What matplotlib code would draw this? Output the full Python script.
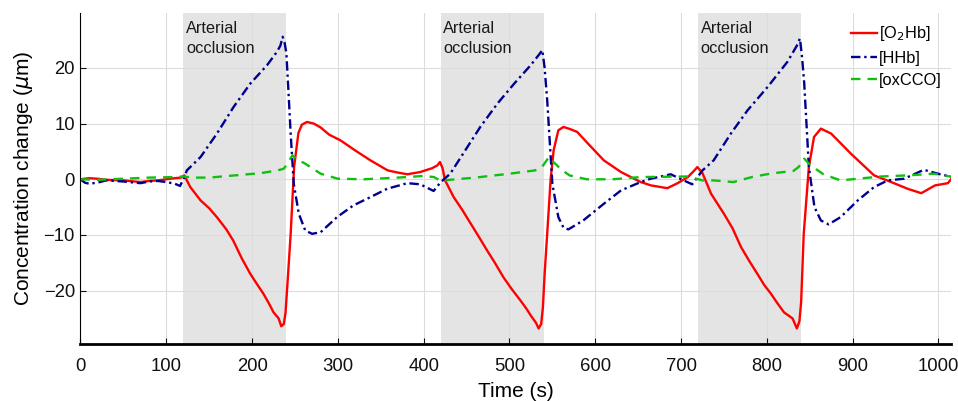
import matplotlib
matplotlib.use("Agg")
import matplotlib.pyplot as plt

plt.rcParams['font.family'] = ['Liberation Sans', 'DejaVu Sans']

# values
t_o2hb = [0, 10, 20, 30, 50, 70, 80, 90, 100, 110, 117, 121, 128, 140, 150, 159, 170, 178, 188, 198, 206,
          213, 220, 225, 231, 234, 237, 239, 242, 245, 249, 254, 258, 264, 272, 280, 290, 303, 320, 338,
          358, 370, 381, 396, 410, 416, 419, 422, 425, 435, 445, 455, 465, 474, 483, 493, 503, 513, 520,
          525, 531, 534, 537, 539, 541, 544, 548, 551.5, 557, 563, 571, 579, 591, 610, 630, 653, 665, 684,
          696, 708, 715, 719, 725, 735, 750, 760, 770, 780, 789, 797, 805, 812, 820, 830, 835, 838, 840,
          843, 849, 855, 863, 875, 898, 925, 945, 964, 980, 996, 1011, 1017]
o2hb = [0, 0.2, 0.1, -0.1, -0.2, -0.5, -0.3, -0.2, 0.0, 0.2, 0.3, 0.7, -1.4, -3.8, -5.2, -6.8, -9.0,
        -11, -14.2, -17, -18.9, -20.5, -22.4, -23.9, -25.0, -26.4, -26.0, -24, -17, -9.8, 2.2, 8.3, 9.8,
        10.3, 10.0, 9.3, 8.0, 7.0, 5.2, 3.4, 1.6, 1.2, 0.9, 1.3, 2.0, 2.5, 3.1, 2.0, -0.2, -3.2, -5.5,
        -8, -10.5, -12.8, -15.0, -17.6, -19.8, -21.8, -23.3, -24.5, -25.8, -26.8, -26.0, -23, -17, -9.8,
        0, 5.2, 8.8, 9.4, 9.0, 8.5, 6.5, 3.4, 1.3, -0.5, -1.1, -1.6, -0.7, 0.4, 1.5, 2.2, 1.1, -2.6,
        -6.2, -8.8, -12.2, -14.8, -17, -19.0, -20.6, -22.2, -23.9, -25, -26.8, -25.5, -22, -9.8, 2.2,
        7.6, 9.1, 8.2, 4.6, 0.7, -0.5, -1.7, -2.5, -1.1, -0.7, 0.4]

t_hhb = [0, 5, 10, 20, 30, 50, 70, 80, 90, 100, 110, 116, 120, 124, 140, 159, 178.5, 198, 217.5, 229,
         233, 235.7, 238, 240, 242, 245, 248.6, 254.5, 262, 270, 280, 299, 318, 338, 357.5, 381, 396,
         411.6, 420, 431, 446, 466, 486, 505.6, 524.8, 535, 538.4, 541, 544, 550, 557, 563, 568.7, 586,
         610, 630, 653, 664.6, 688, 703, 713, 725, 738, 758, 777.6, 801, 824, 835, 838.6, 841, 843.6,
         849, 855.5, 863, 872, 886, 906, 925, 941, 960, 983, 1002, 1017]
hhb = [0, -0.6, -0.8, -0.6, -0.2, -0.4, -0.7, -0.4, -0.3, -0.5, -0.8, -1.2, 0, 1.6, 4.0, 8.2, 13, 17.2,
       20.5, 22.9, 24, 25.6, 24.5, 22.6, 17, 8.2, -0.8, -6.2, -9.2, -9.8, -9.5, -6.8, -4.7, -3.2, -1.7,
       -0.7, -0.9, -2.1, -0.5, 1.0, 4.6, 9.4, 13.6, 17.2, 20.5, 22.5, 23.2, 20, 14.2, -0.8, -6.8, -8.7,
       -9.0, -7.4, -4.4, -2.0, -0.5, 0.1, 0.9, -0.2, -0.9, 1.6, 3.4, 8.2, 12.4, 16.6, 21.1, 24, 25.3,
       22, 17.2, 2.2, -5.0, -7.4, -8.1, -6.8, -3.8, -1.4, -0.2, 0.1, 1.7, 0.9, 0.4]

t_cco = [0, 20, 50, 80, 110, 120, 130, 150, 180, 210, 230, 237, 242, 247, 252, 262, 280, 300, 330, 370,
         400, 412, 420, 430, 460, 500, 530, 538, 546, 552, 560, 570, 590, 620, 653, 708, 725, 738, 761,
         785, 808, 831, 837, 843.6, 851, 866, 886, 906, 933, 964, 995, 1017]
oxcco = [0, -0.1, 0.1, 0.3, 0.4, 0.5, 0.3, 0.3, 0.7, 1.1, 1.6, 1.9, 3, 4.3, 3.6, 2.8, 1.0, 0.1, 0.0,
         0.3, 0.6, 0.4, -0.3, -0.1, 0.3, 1.0, 1.6, 2.2, 4.0, 3.0, 1.8, 0.7, 0.0, 0.0, 0.4, 0.5, -0.2,
         -0.2, -0.5, 0.5, 1.1, 1.5, 2.2, 3.7, 2.5, 0.9, -0.2, 0.1, 0.5, 0.7, 1.0, 0.4]

occlusions = [(120, 240), (420, 540), (720, 840)]

fig = plt.figure(figsize=(9.58, 4.01), dpi=100)
ax = fig.add_axes([0.084, 0.142, 0.909, 0.826])

for start, end in occlusions:
    ax.axvspan(start, end, color='#e4e4e4', lw=0, zorder=0)
    ax.text(start + 3, 28.4, "Arterial\nocclusion", fontsize=11.8, va='top', ha='left',
            color='#1a1a1a', linespacing=1.4)

ax.plot(t_o2hb, o2hb, color='red', lw=1.7, label='[O$_2$Hb]')
ax.plot(t_hhb, hhb, color='#00008f', lw=1.7, ls=(0, (4, 1.6, 1, 1.6)), label='[HHb]')
ax.plot(t_cco, oxcco, color='#10c010', lw=1.7, ls=(0, (4, 3)), label='[oxCCO]')

ax.set_xlim(0, 1015)
ax.set_ylim(-29.6, 29.9)
ax.set_xticks(range(0, 1001, 100))
ax.set_yticks([-20, -10, 0, 10, 20])
ax.grid(True, color='#dcdcdc', lw=0.8)
ax.set_axisbelow(True)
ax.tick_params(direction='in', labelsize=13.3, length=4, colors='#111111')
ax.tick_params(axis='x', pad=10)
ax.tick_params(axis='y', pad=4)
ax.spines['top'].set_visible(False)
ax.spines['right'].set_visible(False)
ax.spines['bottom'].set_linewidth(2)
ax.spines['left'].set_linewidth(0.8)
ax.set_xlabel("Time (s)", fontsize=15, labelpad=5)
ax.set_ylabel("Concentration change ($\\mu$m)", fontsize=15, labelpad=6)

ax.legend(loc='upper right', frameon=False, fontsize=11.8, handlelength=1.6,
          handletextpad=0.1, labelspacing=0.45, borderaxespad=0.2, bbox_to_anchor=(1.0, 0.995))

fig.savefig("out.png", dpi=100)
